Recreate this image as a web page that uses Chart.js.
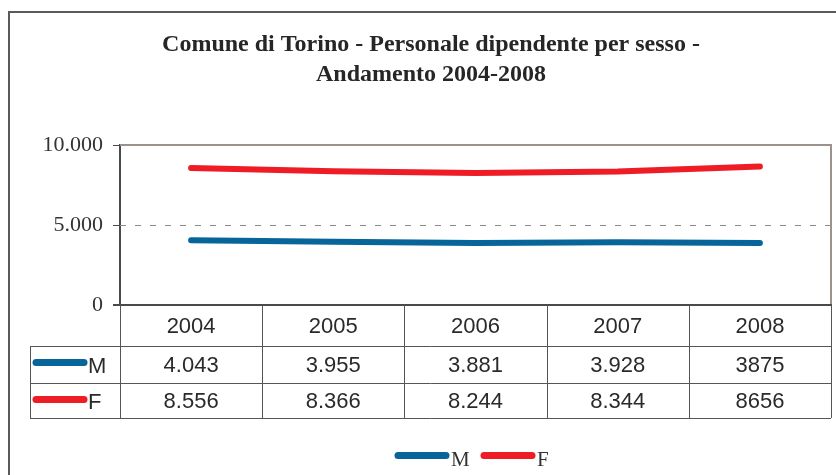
<!DOCTYPE html>
<html>
<head>
<meta charset="utf-8">
<script src="https://cdn.jsdelivr.net/npm/chart.js@4/dist/chart.umd.min.js"></script>
<style>
  html, body { margin: 0; padding: 0; background: #fff; }
  #wrap { width: 836px; height: 475px; position: relative; }
</style>
</head>
<body>
<div id="wrap"><canvas id="c" width="836" height="475"></canvas></div>
<script>
const titleLines = ['Comune di Torino - Personale dipendente per sesso -', 'Andamento 2004-2008'];
const years = ['2004', '2005', '2006', '2007', '2008'];
const seriesNames = ['M', 'F'];
const valuesM = [4043, 3955, 3881, 3928, 3875];
const valuesF = [8556, 8366, 8244, 8344, 8656];
const tableM = ['4.043', '3.955', '3.881', '3.928', '3875'];
const tableF = ['8.556', '8.366', '8.244', '8.344', '8656'];
const yTicks = [0, 5000, 10000];
const colorM = '#07659a';
const colorF = '#ee1c25';

const SERIF = '"Liberation Serif", "Times New Roman", serif';
const SANS = '"Liberation Sans", Arial, sans-serif';

function fmt(v) { return v.toString().replace(/\B(?=(\d{3})+(?!\d))/g, '.'); }

function swatch(ctx, x1, x2, y, color, w) {
  ctx.save();
  ctx.strokeStyle = color; ctx.lineWidth = w; ctx.lineCap = 'round';
  ctx.beginPath(); ctx.moveTo(x1, y); ctx.lineTo(x2, y); ctx.stroke();
  ctx.restore();
}

const framePlugin = {
  id: 'frame',
  beforeDatasetsDraw(chart) {
    const ctx = chart.ctx, a = chart.chartArea, y = chart.scales.y;
    ctx.save();
    ctx.strokeStyle = '#8a8a8a'; ctx.lineWidth = 1; ctx.setLineDash([6, 9]);
    yTicks.forEach(t => {
      if (t === yTicks[0] || t === yTicks[yTicks.length - 1]) return;
      const py = Math.round(y.getPixelForValue(t)) + 0.5;
      ctx.beginPath(); ctx.moveTo(a.left, py); ctx.lineTo(a.right, py); ctx.stroke();
    });
    ctx.setLineDash([]);
    ctx.strokeStyle = '#9c928d'; ctx.lineWidth = 2;
    ctx.beginPath(); ctx.moveTo(a.left, a.top); ctx.lineTo(a.right, a.top); ctx.lineTo(a.right, a.bottom); ctx.stroke();
    ctx.restore();
  },
  afterDraw(chart) {
    const ctx = chart.ctx, a = chart.chartArea, x = chart.scales.x;
    ctx.save();
    // outer frame
    ctx.strokeStyle = '#5a5a5a'; ctx.lineWidth = 2;
    ctx.beginPath(); ctx.moveTo(9, 480); ctx.lineTo(9, 12); ctx.lineTo(840, 12); ctx.stroke();

    // title
    ctx.fillStyle = '#262626';
    ctx.font = 'bold 24px ' + SERIF;
    ctx.textAlign = 'center'; ctx.textBaseline = 'middle';
    ctx.fillText(titleLines[0], 431, 45);
    ctx.fillText(titleLines[1], 431, 75);

    // bottom axis line
    ctx.strokeStyle = '#4a4a4a'; ctx.lineWidth = 2;
    ctx.beginPath(); ctx.moveTo(a.left - 7, a.bottom); ctx.lineTo(a.right + 1, a.bottom); ctx.stroke();

    // data table
    const half = (x.getPixelForValue(1) - x.getPixelForValue(0)) / 2;
    const rowTop = a.bottom, r1 = rowTop + 41, r2 = r1 + 37, r3 = r2 + 35;
    const leftCol = 30;
    ctx.strokeStyle = '#555'; ctx.lineWidth = 1;
    const hl = (x1, x2, yy) => { ctx.beginPath(); ctx.moveTo(x1, Math.round(yy) + 0.5); ctx.lineTo(x2, Math.round(yy) + 0.5); ctx.stroke(); };
    const vl = (xx, y1, y2) => { ctx.beginPath(); ctx.moveTo(Math.round(xx) + 0.5, y1); ctx.lineTo(Math.round(xx) + 0.5, y2); ctx.stroke(); };
    hl(leftCol, a.right, r1); hl(leftCol, a.right, r2); hl(leftCol, a.right, r3);
    vl(leftCol, r1, r3);
    for (let i = 0; i <= years.length; i++) {
      const bx = i < years.length ? x.getPixelForValue(i) - half : x.getPixelForValue(years.length - 1) + half;
      vl(bx, rowTop, r3);
    }
    ctx.fillStyle = '#2a2a2a';
    ctx.font = '22px ' + SANS;
    ctx.textAlign = 'center'; ctx.textBaseline = 'middle';
    years.forEach((yr, i) => {
      const cx = x.getPixelForValue(i);
      ctx.fillText(yr, cx, (rowTop + r1) / 2 + 1);
      ctx.fillText(tableM[i], cx, (r1 + r2) / 2 + 1);
      ctx.fillText(tableF[i], cx, (r2 + r3) / 2 + 1);
    });
    // row legend keys
    swatch(ctx, 36, 84, 362.5, colorM, 7);
    swatch(ctx, 36, 84, 399.5, colorF, 7);
    ctx.textAlign = 'left';
    ctx.font = '22px ' + SANS;
    ctx.fillText(seriesNames[0], 88, 367);
    ctx.fillText(seriesNames[1], 88, 403);

    // bottom legend
    swatch(ctx, 398, 446, 455.5, colorM, 7);
    swatch(ctx, 484, 532, 455.5, colorF, 7);
    ctx.font = '21px ' + SERIF;
    ctx.fillStyle = '#333';
    ctx.fillText(seriesNames[0], 451, 460);
    ctx.fillText(seriesNames[1], 537, 460);
    ctx.restore();
  }
};

new Chart(document.getElementById('c'), {
  type: 'line',
  data: {
    labels: years,
    datasets: [
      { label: seriesNames[0], data: valuesM, borderColor: colorM, backgroundColor: colorM, borderWidth: 6, pointRadius: 0, tension: 0, borderCapStyle: 'round', borderJoinStyle: 'round' },
      { label: seriesNames[1], data: valuesF, borderColor: colorF, backgroundColor: colorF, borderWidth: 6, pointRadius: 0, tension: 0, borderCapStyle: 'round', borderJoinStyle: 'round' }
    ]
  },
  options: {
    responsive: false,
    animation: false,
    devicePixelRatio: 1,
    layout: { padding: { left: 0, right: 5, top: 145, bottom: 170 } },
    plugins: { legend: { display: false }, title: { display: false }, tooltip: { enabled: false } },
    scales: {
      x: { type: 'category', offset: true, display: false },
      y: {
        min: 0, max: 10000,
        afterFit(s) { s.width = 120; },
        afterBuildTicks(s) { s.ticks = yTicks.map(v => ({ value: v })); },
        border: { display: true, color: '#4a4a4a', width: 2 },
        grid: { drawOnChartArea: false, drawTicks: true, tickLength: 7, tickColor: '#4a4a4a', tickWidth: 1 },
        ticks: {
          padding: 10, color: '#333',
          font: { family: SERIF, size: 22 },
          callback: v => fmt(v)
        }
      }
    }
  },
  plugins: [framePlugin]
});
</script>
</body>
</html>
